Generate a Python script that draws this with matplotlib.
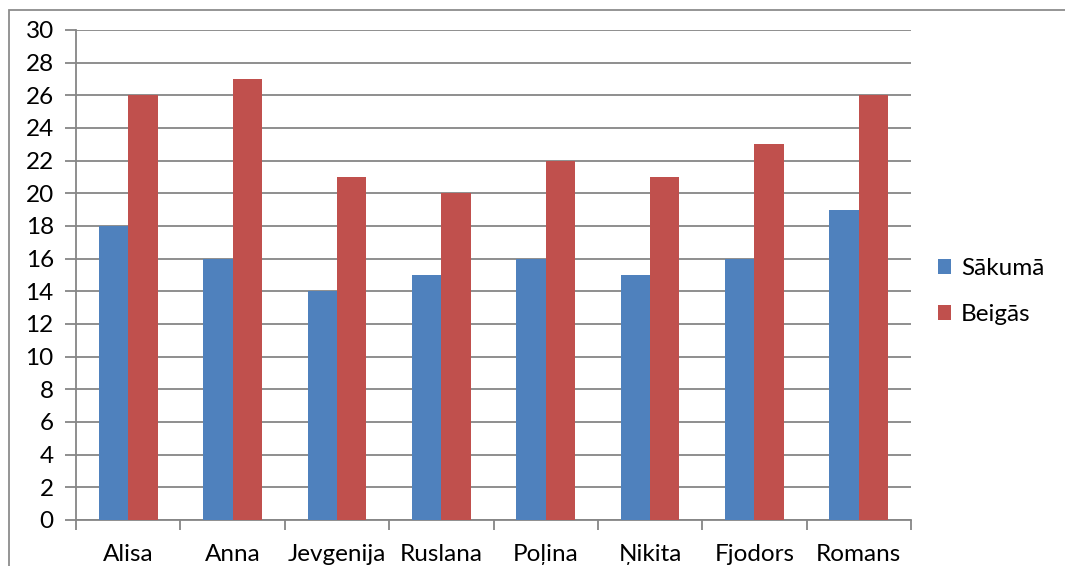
import matplotlib.pyplot as plt
import numpy as np
from matplotlib.patches import Rectangle

# data
names = ['Alisa', 'Anna', 'Jevgenija', 'Ruslana', 'Poļina', 'Ņikita', 'Fjodors', 'Romans']
sakuma = [18, 16, 14, 15, 16, 15, 16, 19]
beigas = [26, 27, 21, 20, 22, 21, 23, 26]
series_names = ['Sākumā', 'Beigās']

plt.rcParams['font.family'] = ['Lato', 'DejaVu Sans']

W, H = 1065, 566
fig = plt.figure(figsize=(W / 100, H / 100), dpi=100)
ax = fig.add_axes([76 / W, (H - 520) / H, (911 - 76) / W, (520 - 30) / H])

grid_col = '#868686'
fs = 17.5
x = np.arange(len(names))
bw = 0.282
ax.bar(x - bw / 2, sakuma, bw, color='#4F81BD', label=series_names[0], zorder=3)
ax.bar(x + bw / 2, beigas, bw, color='#C0504D', label=series_names[1], zorder=3)

ax.set_xlim(-0.5, len(names) - 0.5)
ax.set_ylim(0, 30)
ax.set_yticks(range(0, 31, 2))
ax.yaxis.grid(True, color=grid_col, linewidth=1.3, zorder=0)

# category ticks sit between the groups, labels at the centres
ax.set_xticks(np.arange(-0.5, len(names), 1.0))
ax.set_xticklabels([])
ax.set_xticks(x, minor=True)
ax.set_xticklabels(names, minor=True, fontsize=fs)
ax.tick_params(axis='x', which='minor', length=0, pad=17)
ax.tick_params(axis='x', which='major', length=7, width=1.3, color=grid_col)
ax.tick_params(axis='y', length=8, width=1.3, color=grid_col, labelsize=fs, pad=8)

for s in ['top', 'right']:
    ax.spines[s].set_visible(False)
for s in ['left', 'bottom']:
    ax.spines[s].set_color(grid_col)
    ax.spines[s].set_linewidth(1.3)

leg = fig.legend(loc='upper left', bbox_to_anchor=(916 / W, 1 - 236 / H),
                 frameon=False, fontsize=fs, handlelength=0.55, handleheight=0.55,
                 handletextpad=0.4, labelspacing=1.05)

# outer chart border (cut off on the right and bottom)
fig.patches.append(Rectangle((9 / W, -0.2), 1.2, 1.2 - 10 / H, transform=fig.transFigure,
                             fill=False, edgecolor='#8c8c8c', linewidth=1.3))

fig.savefig('out.png', dpi=100)
